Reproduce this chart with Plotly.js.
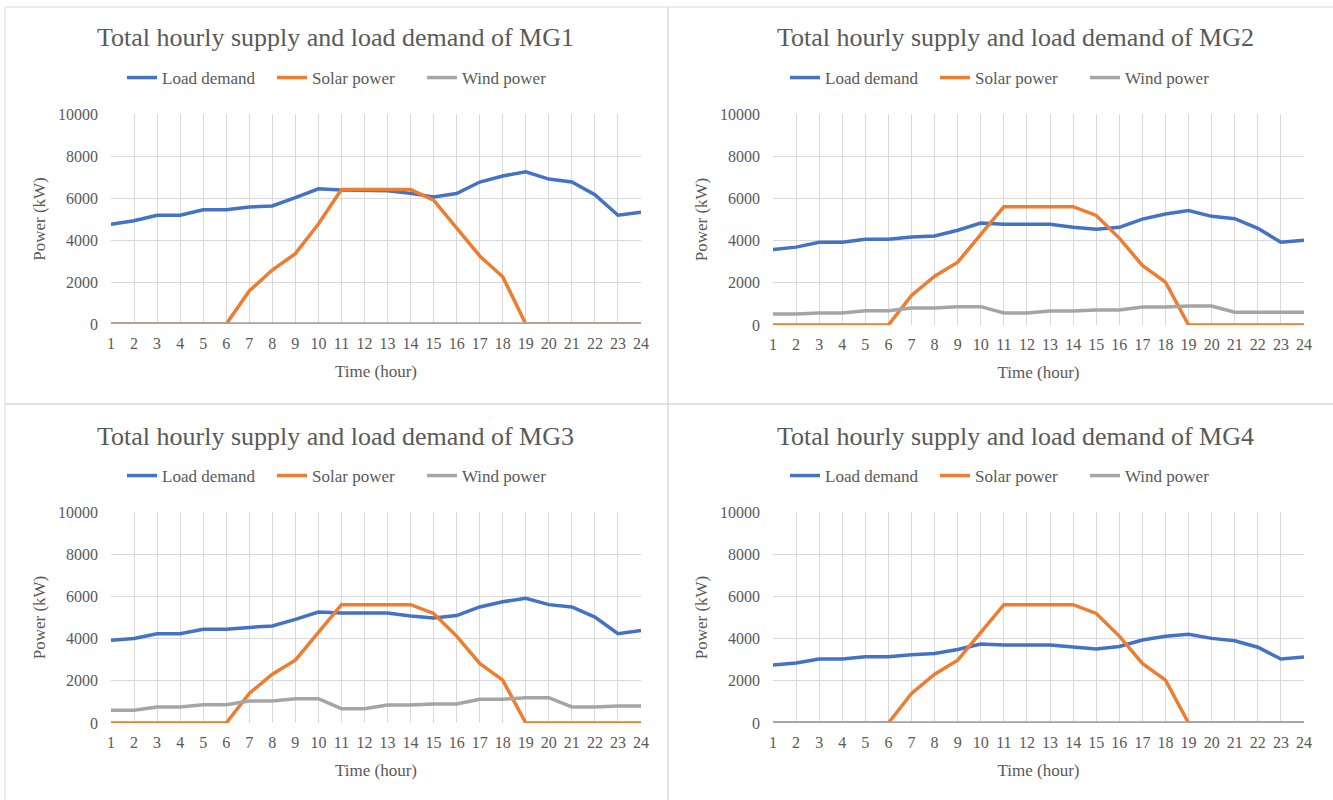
<!DOCTYPE html>
<html><head><meta charset="utf-8">
<script src="https://cdn.plot.ly/plotly-3.0.1.min.js"></script>
<style>html,body{margin:0;padding:0;background:#fff}#chart{width:1333px;height:800px}</style>
</head><body><div id="chart"></div>
<script>
const hours = [1,2,3,4,5,6,7,8,9,10,11,12,13,14,15,16,17,18,19,20,21,22,23,24];
const hourLabels = hours.map(String);
const seriesNames = ['Load demand', 'Solar power', 'Wind power'];
const yTickVals = [0, 2000, 4000, 6000, 8000, 10000];
const yTickText = ['0', '2000', '4000', '6000', '8000', '10000'];
const titles = ['Total hourly supply and load demand of MG1', 'Total hourly supply and load demand of MG2',
                'Total hourly supply and load demand of MG3', 'Total hourly supply and load demand of MG4'];

const mg1Load  = [4750,4920,5180,5180,5440,5440,5570,5620,6020,6440,6380,6380,6350,6220,6050,6210,6760,7050,7250,6900,6760,6160,5180,5320];
const mg1Solar = [0,0,0,0,0,0,1570,2570,3350,4760,6400,6400,6400,6400,5900,4590,3240,2250,0,0,0,0,0,0];
const mg1Wind  = [0,0,0,0,0,0,0,0,0,0,0,0,0,0,0,0,0,0,0,0,0,0,0,0];

const mg2Load  = [3580,3690,3920,3920,4060,4060,4170,4220,4490,4830,4770,4770,4770,4630,4540,4630,5020,5260,5420,5150,5040,4580,3920,4020];
const mg2Solar = [0,0,0,0,0,0,1400,2310,2980,4280,5610,5610,5610,5610,5190,4120,2820,2030,0,0,0,0,0,0];
const mg2Wind  = [520,520,570,570,680,680,800,800,870,870,570,570,660,660,710,710,850,850,900,900,610,610,610,610];

const mg3Load  = [3920,4010,4230,4230,4440,4440,4530,4600,4910,5260,5210,5210,5210,5070,4980,5090,5500,5750,5910,5610,5500,5020,4230,4390];
const mg3Solar = [0,0,0,0,0,0,1400,2310,2980,4280,5610,5610,5610,5610,5190,4120,2820,2030,0,0,0,0,0,0];
const mg3Wind  = [600,600,760,760,870,870,1040,1040,1150,1150,680,680,850,850,900,900,1120,1120,1200,1200,760,760,810,810];

const mg4Load  = [2750,2840,3030,3030,3140,3140,3240,3290,3480,3740,3700,3700,3700,3600,3510,3630,3930,4110,4200,4010,3900,3590,3030,3130];
const mg4Solar = [0,0,0,0,0,0,1400,2310,2980,4280,5610,5610,5610,5610,5190,4120,2820,2030,0,0,0,0,0,0];
const mg4Wind  = [0,0,0,0,0,0,0,0,0,0,0,0,0,0,0,0,0,0,0,0,0,0,0,0];

const W = 1333, H = 800;
const fx = p => p / W;
const fy = p => 1 - p / H;
const SERIF = 'Liberation Serif';
const TXT = '#595959';
const colors = ['#4472C4', '#ED7D31', '#A5A5A5'];

const panels = [
  {data: [mg1Load, mg1Solar, mg1Wind], px: [111, 641], py: [114, 324], title: [335, 38], leg: [347, 78], box: [5, 668, 7, 404]},
  {data: [mg2Load, mg2Solar, mg2Wind], px: [773, 1304], py: [114, 325], title: [1015, 38], leg: [1010, 78], box: [668, 1345, 7, 404]},
  {data: [mg3Load, mg3Solar, mg3Wind], px: [111, 641], py: [512, 723], title: [335, 436], leg: [347, 476], box: [5, 668, 404, 812]},
  {data: [mg4Load, mg4Solar, mg4Wind], px: [773, 1304], py: [512, 723], title: [1015, 436], leg: [1010, 476], box: [668, 1345, 404, 812]}
];

const traces = [];
const layout = {
  width: W, height: H,
  margin: {l: 0, r: 0, t: 0, b: 0},
  paper_bgcolor: '#ffffff', plot_bgcolor: '#ffffff',
  font: {family: SERIF, color: TXT},
  annotations: [], shapes: []
};

panels.forEach((p, i) => {
  const n = i + 1;
  const sfx = n === 1 ? '' : String(n);
  const legKey = n === 1 ? 'legend' : 'legend' + n;
  p.data.forEach((vals, k) => {
    traces.push({
      type: 'scatter', mode: 'lines', x: hours, y: vals, name: seriesNames[k],
      xaxis: 'x' + sfx, yaxis: 'y' + sfx, legend: legKey,
      line: {color: colors[k], width: 3.5}, hoverinfo: 'x+y+name'
    });
  });
  layout['xaxis' + sfx] = {
    domain: [fx(p.px[0]), fx(p.px[1])], anchor: 'y' + sfx,
    range: [1, 24], tickmode: 'array', tickvals: hours, ticktext: hourLabels,
    showgrid: true, gridcolor: '#d9d9d9', gridwidth: 1, zeroline: false, showline: false,
    ticks: '', ticklabelstandoff: 8, tickfont: {family: SERIF, size: 16, color: TXT},
    title: {text: 'Time (hour)', font: {family: SERIF, size: 17, color: TXT}, standoff: 14},
    automargin: false, fixedrange: true
  };
  layout['yaxis' + sfx] = {
    domain: [fy(p.py[1]), fy(p.py[0])], anchor: 'x' + sfx,
    range: [0, 10000], tickmode: 'array', tickvals: yTickVals, ticktext: yTickText,
    showgrid: true, gridcolor: '#d9d9d9', gridwidth: 1, zeroline: false, showline: false,
    ticks: '', ticklabelstandoff: 12, tickfont: {family: SERIF, size: 16, color: TXT},
    title: {text: 'Power (kW)', font: {family: SERIF, size: 17, color: TXT}, standoff: 8},
    automargin: false, fixedrange: true
  };
  layout[legKey] = {
    orientation: 'h', x: fx(p.leg[0]), y: fy(p.leg[1]), xanchor: 'center', yanchor: 'middle',
    entrywidth: 105, entrywidthmode: 'pixels',
    font: {family: SERIF, size: 17, color: TXT}, bgcolor: 'rgba(0,0,0,0)', itemclick: false, itemdoubleclick: false
  };
  layout.annotations.push({
    text: titles[i], xref: 'paper', yref: 'paper', x: fx(p.title[0]), y: fy(p.title[1]),
    xanchor: 'center', yanchor: 'middle', showarrow: false,
    font: {family: SERIF, size: 26, color: TXT}
  });
  layout.shapes.push({
    type: 'rect', xref: 'paper', yref: 'paper', layer: 'below',
    x0: fx(p.box[0]), x1: fx(p.box[1]), y0: fy(p.box[3]), y1: fy(p.box[2]),
    line: {color: '#d9d9d9', width: 1}, fillcolor: 'rgba(0,0,0,0)'
  });
});

Plotly.newPlot('chart', traces, layout, {displayModeBar: false, responsive: false});
</script>
</body></html>
